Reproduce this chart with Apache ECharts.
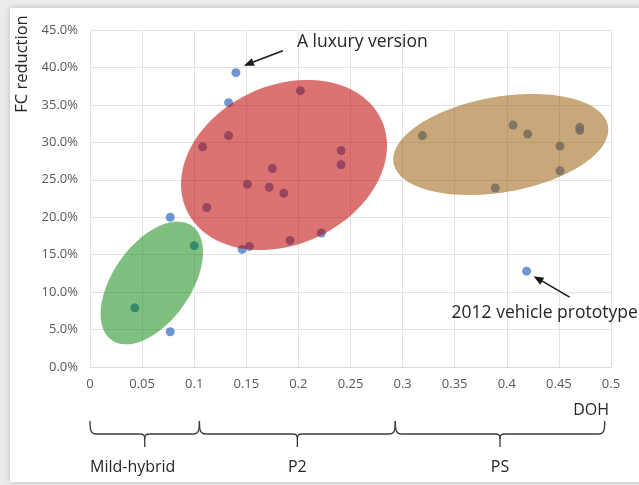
<!DOCTYPE html>
<html>
<head>
<meta charset="utf-8">
<script src="https://cdn.jsdelivr.net/npm/echarts@6/dist/echarts.min.js"></script>
<style>
  html, body { margin: 0; padding: 0; background: #ececec; }
  #card { position: absolute; left: 10px; top: 8px; width: 660px; height: 474px; background: #fff;
          box-shadow: 0 0 6px rgba(0,0,0,0.22); }
  #chart { position: absolute; left: 0; top: 0; width: 639px; height: 485px; }
</style>
</head>
<body>
<div id="card"></div>
<div id="chart"></div>
<script>
// Degree of hybridization (DOH) vs fuel-consumption reduction, one entry per vehicle
const dohValues = [
  0.140, 0.133, 0.077, 0.077, 0.146, 0.222, 0.419,
  0.043, 0.100,
  0.202, 0.133, 0.108, 0.175, 0.151, 0.172, 0.186, 0.112, 0.153, 0.192, 0.241, 0.241,
  0.319, 0.406, 0.420, 0.451, 0.470, 0.470, 0.451, 0.389
];
const fcReduction = [
  39.3, 35.3, 20.0, 4.7, 15.7, 17.9, 12.8,
  7.9, 16.2,
  36.9, 30.9, 29.4, 26.5, 24.4, 24.0, 23.2, 21.3, 16.1, 16.9, 28.9, 27.0,
  30.9, 32.3, 31.1, 29.5, 32.0, 31.6, 26.2, 23.9
];

// Hybrid architecture groups: DOH span under the axis and the cluster ellipse (data units)
const groupNames = ['Mild-hybrid', 'P2', 'PS'];
const groupBounds = [0, 0.105, 0.293, 0.494];
const ellipseCenter = [[0.0593, 11.22], [0.1862, 26.98], [0.3942, 29.71]];
const ellipseMajor = [[0.0385, 7.63], [0.0935, 6.04], [0.1029, 2.47]];
const ellipseMinor = [[0.0305, -2.99], [0.0321, -9.62], [0.0078, -6.28]];
const ellipseColors = ['rgba(0,128,0,0.5)', 'rgba(192,0,0,0.55)', 'rgba(150,88,0,0.52)'];

// Highlighted vehicles: index into the arrays above and their captions
const callouts = [
  { index: 0, text: 'A luxury version' },
  { index: 6, text: '2012 vehicle prototype' }
];

const xTicks = ['0', '0.05', '0.1', '0.15', '0.2', '0.25', '0.3', '0.35', '0.4', '0.45', '0.5'];

const FONT = '"Open Sans", "Noto Sans", sans-serif';
const chart = echarts.init(document.getElementById('chart'), null, { renderer: 'canvas' });

const points = dohValues.map((d, i) => [d, fcReduction[i]]);
const ellipses = ellipseCenter.map((c, i) => [c[0], c[1], ellipseMajor[i][0], ellipseMajor[i][1],
  ellipseMinor[i][0], ellipseMinor[i][1], i]);

chart.setOption({
  animation: false,
  grid: { left: 90, right: 28, top: 30, bottom: 118 },
  xAxis: {
    type: 'value', min: 0, max: 0.5, interval: 0.05,
    axisLine: { show: true, lineStyle: { color: '#d9d9d9' } },
    axisTick: { show: false },
    axisLabel: {
      margin: 11, color: '#595959', fontSize: 13, fontFamily: FONT,
      formatter: (v) => xTicks[Math.round(v / 0.05)]
    },
    splitLine: { show: true, lineStyle: { color: '#e3e3e3' } }
  },
  yAxis: {
    type: 'value', min: 0, max: 45, interval: 5,
    axisLine: { show: false },
    axisTick: { show: false },
    axisLabel: {
      margin: 12, color: '#595959', fontSize: 13, fontFamily: FONT,
      formatter: (v) => v.toFixed(1) + '%'
    },
    splitLine: { show: true, lineStyle: { color: '#e3e3e3' } }
  },
  series: [
    {
      type: 'scatter', data: points, symbolSize: 9, z: 2,
      itemStyle: { color: '#4a7dc6' }, silent: true
    },
    {
      type: 'custom', data: ellipses, z: 3, silent: true,
      renderItem: (params, api) => {
        const cx = api.value(0), cy = api.value(1);
        const ax = api.value(2), ay = api.value(3), bx = api.value(4), by = api.value(5);
        const pts = [];
        for (let k = 0; k < 96; k++) {
          const t = (k / 96) * Math.PI * 2;
          const c = Math.cos(t), s = Math.sin(t);
          pts.push(api.coord([cx + ax * c + bx * s, cy + ay * c + by * s]));
        }
        return {
          type: 'polygon', shape: { points: pts },
          style: { fill: ellipseColors[api.value(6)], stroke: null }
        };
      }
    }
  ]
});

// Annotations placed from the axis scales
const px = (x, y) => chart.convertToPixel({ gridIndex: 0 }, [x, y]);
const graphics = [];
const textColor = '#262626';

function arrow(from, to) {
  const dx = to[0] - from[0], dy = to[1] - from[1];
  const len = Math.hypot(dx, dy), ux = dx / len, uy = dy / len;
  const hl = 10, hw = 4;
  const base = [to[0] - ux * hl, to[1] - uy * hl];
  graphics.push({
    type: 'line', z: 10,
    shape: { x1: from[0], y1: from[1], x2: base[0], y2: base[1] },
    style: { stroke: '#1a1a1a', lineWidth: 1.6 }
  });
  graphics.push({
    type: 'polygon', z: 10,
    shape: { points: [to, [base[0] - uy * hw, base[1] + ux * hw], [base[0] + uy * hw, base[1] - ux * hw]] },
    style: { fill: '#1a1a1a' }
  });
}

// "A luxury version": caption up and to the right of the point
{
  const p = px(dohValues[callouts[0].index], fcReduction[callouts[0].index]);
  arrow([p[0] + 47, p[1] - 22], [p[0] + 8, p[1] - 7]);
  graphics.push({
    type: 'text', z: 10, x: p[0] + 61, y: p[1] - 31,
    style: { text: callouts[0].text, fill: textColor, font: '17.5px ' + FONT, textVerticalAlign: 'middle' }
  });
}
// "2012 vehicle prototype": caption below and to the right
{
  const p = px(dohValues[callouts[1].index], fcReduction[callouts[1].index]);
  arrow([p[0] + 43, p[1] + 26], [p[0] + 7, p[1] + 5]);
  graphics.push({
    type: 'text', z: 10, x: p[0] - 75, y: p[1] + 42,
    style: { text: callouts[1].text, fill: textColor, font: '17.5px ' + FONT, textVerticalAlign: 'middle' }
  });
}

// Axis titles
const originPx = px(0, 0), topPx = px(0, 45), rightPx = px(0.5, 0);
graphics.push({
  type: 'text', z: 10, x: 22, y: topPx[1] + 34, rotation: Math.PI / 2,
  style: { text: 'FC reduction', fill: textColor, font: '16.5px ' + FONT,
           textAlign: 'center', textVerticalAlign: 'middle' }
});
graphics.push({
  type: 'text', z: 10, x: rightPx[0] - 2, y: originPx[1] + 43,
  style: { text: 'DOH', fill: textColor, font: '16px ' + FONT,
           textAlign: 'right', textVerticalAlign: 'middle' }
});

// Curly braces grouping the DOH ranges, built from lines and curves
const yTop = originPx[1] + 54, yLine = originPx[1] + 67, yTip = originPx[1] + 80;
const braceStyle = { stroke: '#3a3a3a', lineWidth: 1.3, fill: null };
function seg(x1, y1, x2, y2) {
  graphics.push({ type: 'line', z: 10, shape: { x1, y1, x2, y2 }, style: braceStyle });
}
function curve(x1, y1, cpx1, cpy1, cpx2, cpy2, x2, y2) {
  graphics.push({ type: 'bezierCurve', z: 10,
    shape: { x1, y1, x2, y2, cpx1, cpy1, cpx2, cpy2 }, style: braceStyle });
}
for (let i = 0; i < groupNames.length; i++) {
  const x1 = px(groupBounds[i], 0)[0], x2 = px(groupBounds[i + 1], 0)[0];
  const xm = (x1 + x2) / 2;
  curve(x1, yTop, x1, yLine - 3, x1 + 1, yLine, x1 + 6, yLine);
  seg(x1 + 6, yLine, xm - 5, yLine);
  curve(xm - 5, yLine, xm - 1, yLine, xm, yLine + 1, xm, yLine + 5);
  curve(xm + 5, yLine, xm + 1, yLine, xm, yLine + 1, xm, yLine + 5);
  seg(xm, yLine + 5, xm, yTip);
  seg(xm + 5, yLine, x2 - 6, yLine);
  curve(x2 - 6, yLine, x2 - 1, yLine, x2, yLine - 3, x2, yTop);
  graphics.push({
    type: 'text', z: 10, x: i === 0 ? x1 : xm, y: originPx[1] + 100,
    style: { text: groupNames[i], fill: textColor, font: '16px ' + FONT,
             textAlign: i === 0 ? 'left' : 'center', textVerticalAlign: 'middle' }
  });
}

chart.setOption({ graphic: graphics });
</script>
</body>
</html>
